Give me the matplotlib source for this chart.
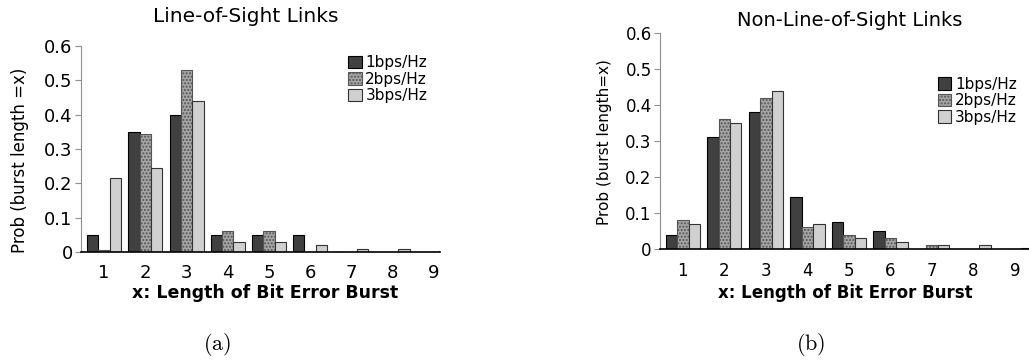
import numpy as np
import matplotlib
matplotlib.use("Agg")
import matplotlib.pyplot as plt

# burst length categories
lengths = [1, 2, 3, 4, 5, 6, 7, 8, 9]
series_names = ['1bps/Hz', '2bps/Hz', '3bps/Hz']

# (a) line-of-sight links
los_1bps = [0.05, 0.35, 0.40, 0.05, 0.05, 0.05, 0.0, 0.0, 0.0]
los_2bps = [0.005, 0.344, 0.53, 0.06, 0.06, 0.0, 0.0, 0.0, 0.0]
los_3bps = [0.215, 0.245, 0.44, 0.03, 0.03, 0.02, 0.01, 0.01, 0.002]

# (b) non-line-of-sight links
nlos_1bps = [0.04, 0.31, 0.38, 0.145, 0.075, 0.05, 0.0, 0.0, 0.0]
nlos_2bps = [0.08, 0.36, 0.42, 0.06, 0.04, 0.03, 0.01, 0.0, 0.0]
nlos_3bps = [0.07, 0.35, 0.44, 0.07, 0.03, 0.02, 0.01, 0.01, 0.002]

plt.rcParams['mathtext.fontset'] = 'cm'
plt.rcParams['font.family'] = 'DejaVu Sans'

W, H = 1029, 364
fig = plt.figure(figsize=(W / 100, H / 100), dpi=100)


def px(x0, y_top, x1, y_bot):
    # pixel box -> figure fraction rect
    return [x0 / W, 1 - y_bot / H, (x1 - x0) / W, (y_bot - y_top) / H]


def draw_panel(ax, s1, s2, s3, xlim, leg_anchor, fs):
    x = np.array(lengths)
    w = 0.275
    ax.bar(x - w, s1, w, color='#404040', edgecolor='black', linewidth=0.8,
           label=series_names[0])
    ax.bar(x, s2, w, color='#a6a6a6', edgecolor='#555555', linewidth=0.8,
           hatch='.....', label=series_names[1])
    ax.bar(x + w, s3, w, color='#d0d0d0', edgecolor='#333333', linewidth=0.8,
           label=series_names[2])
    ax.set_xlim(*xlim)
    ax.set_ylim(0, 0.6)
    ax.set_xticks(lengths)
    ax.set_yticks([0, 0.1, 0.2, 0.3, 0.4, 0.5, 0.6])
    ax.set_yticklabels(['0', '0.1', '0.2', '0.3', '0.4', '0.5', '0.6'])
    ax.tick_params(axis='x', length=0, pad=9, labelsize=fs)
    ax.tick_params(axis='y', length=4, color='#909090', pad=2, labelsize=fs)
    ax.spines['top'].set_visible(False)
    ax.spines['right'].set_visible(False)
    ax.spines['left'].set_color('#909090')
    ax.spines['bottom'].set_color('black')
    ax.spines['bottom'].set_linewidth(1.2)
    ax.legend(loc='upper right', bbox_to_anchor=leg_anchor, frameon=False,
              fontsize=11, handlelength=0.9, handleheight=0.9,
              handletextpad=0.25, labelspacing=0.1, borderpad=0.1)


ax1 = fig.add_axes(px(81, 46, 440, 252))
draw_panel(ax1, los_1bps, los_2bps, los_3bps, (0.44, 9.15), (0.99, 1.0), 13)

ax2 = fig.add_axes(px(660, 33, 1030, 249))
draw_panel(ax2, nlos_1bps, nlos_2bps, nlos_3bps, (0.45, 9.36), (0.99, 0.84), 12)

# titles
fig.text(246 / W, 1 - 17 / H, 'Line-of-Sight Links', ha='center', va='center', fontsize=14.5)
fig.text(850 / W, 1 - 20 / H, 'Non-Line-of-Sight Links', ha='center', va='center', fontsize=14)

# axis labels
fig.text(20 / W, 1 - 160 / H, 'Prob (burst length =x)', rotation=90,
         ha='center', va='center', fontsize=12)
fig.text(604 / W, 1 - 142 / H, 'Prob (burst length=x)', rotation=90,
         ha='center', va='center', fontsize=11)
fig.text(265 / W, 1 - 293 / H, 'x: Length of Bit Error Burst', ha='center',
         va='center', fontsize=12.5, fontweight='bold')
fig.text(845 / W, 1 - 293 / H, 'x: Length of Bit Error Burst', ha='center',
         va='center', fontsize=12, fontweight='bold')

# sub-figure tags
fig.text(217 / W, 1 - 345 / H, r'$\mathrm{(a)}$', ha='center', va='center', fontsize=16)
fig.text(811 / W, 1 - 345 / H, r'$\mathrm{(b)}$', ha='center', va='center', fontsize=16)

fig.savefig('out.png', dpi=100)
